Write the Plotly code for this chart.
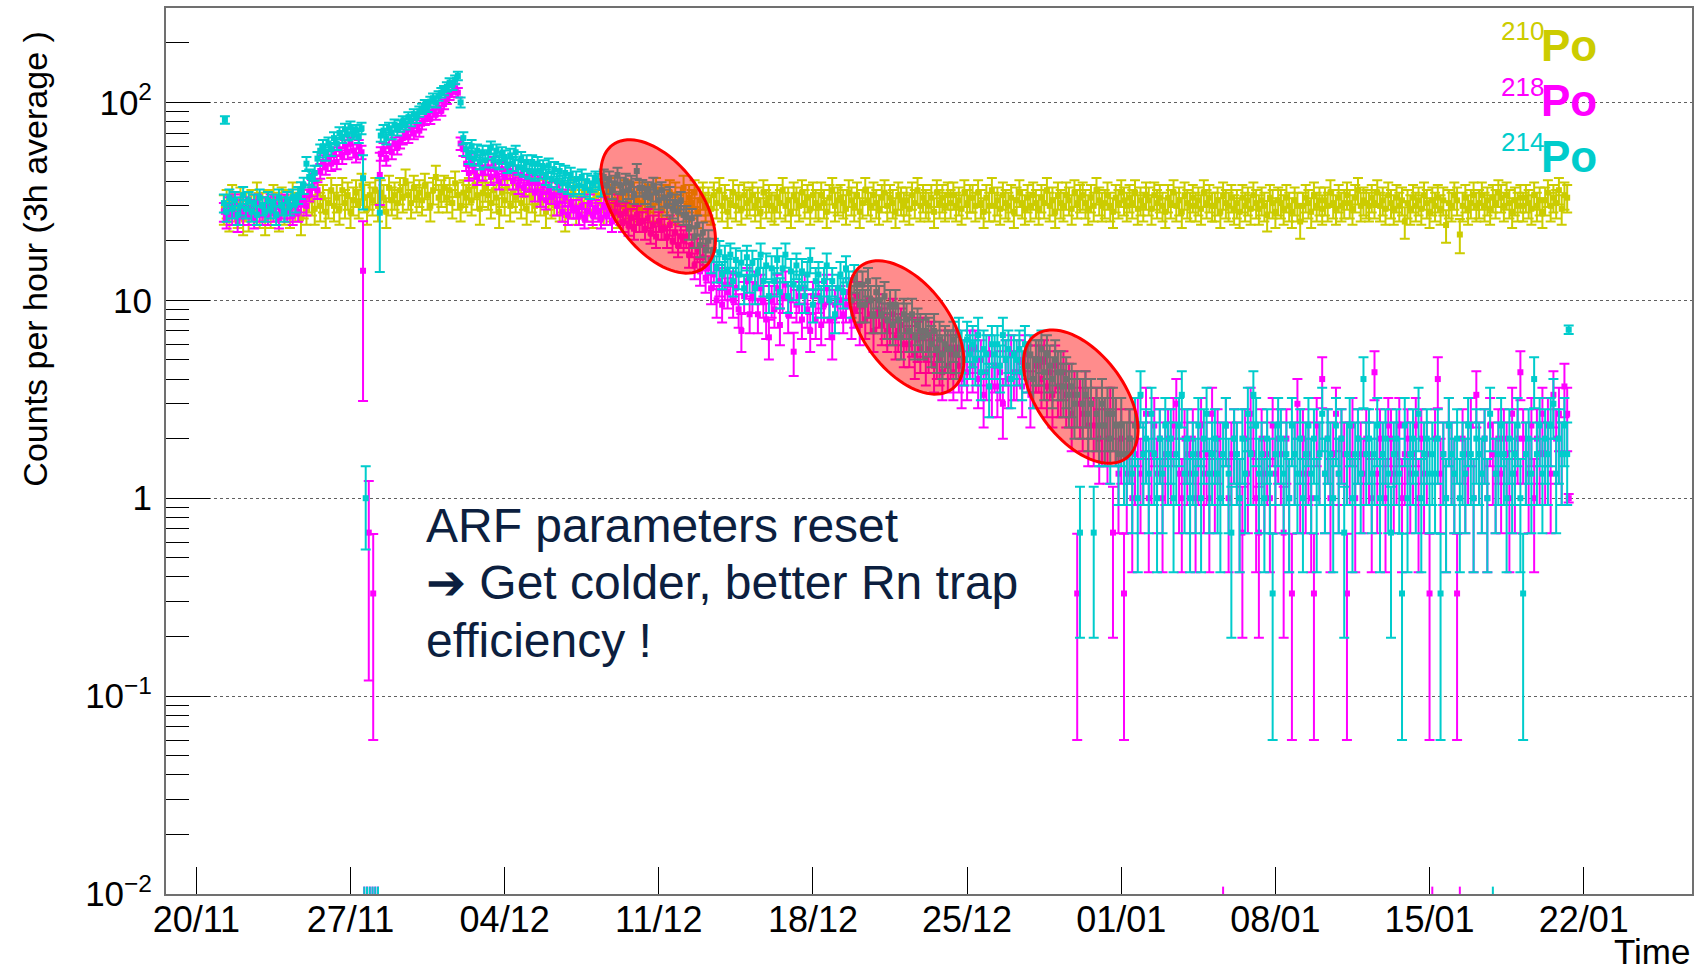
import numpy as np
import pandas as pd
import plotly.graph_objects as go

# ---------------------------------------------------------------------------
# Rates in counts per hour, averaged over 3 h bins (bin centres every 3 h,
# first bin 21/11 06:00, last bin 21/01 06:00).  One row = one day (8 bins).
# A value of 0 marks an empty bin.
# ---------------------------------------------------------------------------
BIN_START = "2018-11-21 06:00"
BIN_FREQ = "3h"

po210 = [
    29, 31, 27, 33, 30, 28, 32, 26,
    30, 27, 31, 29, 34, 28, 30, 26,
    31, 28, 33, 30, 27, 32, 29, 31,
    28, 34, 30, 32, 26, 31, 29, 33,
    32, 29, 35, 30, 33, 28, 31, 36,
    30, 33, 29, 36, 31, 34, 28, 32,
    35, 31, 38, 33, 29, 34, 32, 36,
    30, 35, 33, 28, 37, 32, 34, 31,
    36, 33, 40, 34, 31, 37, 33, 35,
    32, 38, 34, 30, 36, 42, 33, 35,
    37, 33, 36, 31, 39, 34, 30, 35,
    33, 36, 32, 38, 34, 29, 35, 37,
    34, 31, 36, 33, 28, 35, 32, 37,
    30, 35, 33, 37, 31, 34, 29, 36,
    33, 30, 36, 32, 35, 28, 34, 31,
    32, 35, 30, 33, 27, 34, 31, 36,
    29, 33, 31, 35, 30, 32, 28, 34,
    31, 34, 29, 33, 36, 30, 32, 28,
    33, 30, 35, 31, 29, 34, 32, 30,
    31, 34, 28, 33, 30, 36, 32, 29,
    33, 31, 35, 30, 34, 29, 32, 37,
    30, 33, 31, 35, 28, 32, 34, 30,
    32, 29, 34, 31, 36, 30, 33, 28,
    31, 35, 30, 33, 29, 34, 31, 32,
    34, 30, 32, 28, 35, 31, 33, 30,
    29, 33, 31, 36, 30, 32, 28, 34,
    32, 30, 35, 31, 33, 29, 34, 31,
    30, 34, 31, 28, 33, 36, 30, 32,
    33, 31, 29, 35, 32, 30, 34, 28,
    31, 36, 32, 30, 34, 31, 29, 33,
    35, 30, 33, 31, 28, 34, 32, 30,
    32, 29, 34, 31, 36, 30, 33, 31,
    30, 33, 28, 35, 31, 33, 30, 34,
    31, 34, 30, 32, 29, 35, 31, 33,
    33, 30, 35, 31, 28, 33, 30, 36,
    30, 32, 29, 34, 31, 30, 33, 28,
    32, 35, 31, 29, 33, 30, 34, 31,
    29, 33, 31, 36, 30, 32, 28, 34,
    31, 30, 34, 32, 29, 35, 31, 33,
    34, 31, 29, 33, 30, 36, 32, 30,
    31, 34, 30, 28, 33, 31, 35, 32,
    30, 33, 31, 35, 29, 32, 30, 34,
    32, 29, 34, 31, 33, 30, 28, 33,
    31, 35, 30, 32, 28, 34, 31, 30,
    33, 30, 32, 29, 35, 31, 33, 30,
    30, 32, 28, 34, 31, 30, 33, 29,
    31, 28, 33, 30, 32, 29, 34, 31,
    29, 32, 30, 27, 33, 31, 28, 32,
    31, 29, 33, 30, 28, 32, 30, 25,
    30, 33, 31, 28, 34, 30, 32, 29,
    32, 30, 35, 31, 29, 33, 30, 31,
    34, 31, 29, 33, 36, 30, 32, 31,
    30, 33, 31, 35, 30, 32, 29, 34,
    31, 29, 33, 30, 32, 25, 31, 29,
    33, 30, 32, 29, 34, 31, 28, 32,
    30, 33, 29, 32, 24, 31, 30, 34,
    32, 21.5, 30, 33, 29, 31, 34, 30,
    31, 34, 30, 32, 29, 33, 31, 35,
    33, 30, 34, 31, 28, 32, 30, 33,
    30, 33, 31, 29, 34, 30, 32, 28,
    32, 35, 30, 33, 31, 36, 29, 34,
    33,
]

po218 = [
    28, 26, 30, 27, 31, 25, 29, 27,
    30, 27, 29, 26, 31, 28, 27, 30,
    27, 31, 28, 30, 26, 29, 31, 28,
    29, 27, 30, 28, 31, 33, 30, 35,
    37, 40, 36, 45, 50, 47, 53, 49,
    55, 50, 58, 53, 60, 56, 62, 57,
    54, 60, 56, 0, 0, 0, 0, 0,
    0, 55, 58, 52, 60, 56, 62, 59,
    63, 66, 70, 67, 73, 70, 76, 72,
    78, 82, 86, 83, 90, 87, 94, 91,
    98, 104, 109, 113, 118, 112, 62, 58,
    49, 44, 51, 45, 42, 50, 44, 47,
    47, 42, 49, 43, 40, 46, 42, 45,
    45, 40, 44, 38, 43, 37, 42, 39,
    40, 35, 39, 33, 38, 32, 36, 34,
    34, 30, 35, 28, 33, 27, 31, 29,
    29, 27, 30, 26, 28, 31, 27, 29,
    28, 26, 30, 27, 29, 25, 28, 31,
    27, 25, 28, 24, 26, 23, 27, 25,
    25, 23, 26, 22, 24, 21, 25, 23,
    23, 21, 24, 20, 22, 19, 21, 20,
    21, 17, 19, 15, 18, 14, 16.5, 13,
    14.5, 11.5, 13.5, 10, 12.5, 9.5, 12, 11,
    12, 10, 11.5, 9, 7, 10.5, 12.5, 8.5,
    10.5, 12, 8.5, 11.5, 10, 8, 6.5, 10,
    9, 11.5, 7.5, 10.5, 12, 8.5, 10, 5.5,
    9.5, 10.5, 8, 11.5, 9, 7, 10.5, 8,
    10.5, 7.5, 9.5, 11.5, 8, 6.5, 9.5, 10,
    10, 8.5, 9.5, 11, 8, 9, 10.5, 7.5,
    9.5, 8, 10, 8.5, 7, 8.5, 9, 7.5,
    8, 7, 7.5, 8.5, 6.5, 7, 7.5, 6,
    7, 6, 6.67, 5.33, 6.33, 5.67, 6.67, 5,
    5.67, 6.33, 4.67, 5.33, 5, 4.33, 5.67, 4.67,
    5.33, 4.33, 5.67, 4.67, 4, 5, 4.33, 5.67,
    4.67, 5.67, 4, 5, 3.33, 4.33, 5.33, 3.67,
    4.67, 3.67, 4.33, 3, 5, 4, 5.33, 4.33,
    4.33, 5, 3.67, 5.33, 4.67, 3.33, 4, 4.67,
    4.67, 4, 5, 3.67, 4.33, 3.33, 4.67, 3.67,
    3.67, 4.33, 3.33, 3.67, 2.67, 3.33, 0.33, 3,
    2.67, 3.33, 2.33, 3, 2.33, 2.67, 2, 2.33,
    2.33, 2, 2.67, 0.67, 2.33, 1.33, 2, 0.33,
    1.33, 2, 1, 1.67, 2.33, 1.33, 1.67, 2.67,
    1, 1.67, 2.33, 1.33, 2, 1, 1.67, 2,
    1.67, 2.33, 3, 1.33, 1, 2, 1.67, 1.33,
    2, 1, 1.67, 2.33, 1.33, 1.67, 1, 2.67,
    1.33, 2, 1.67, 0, 2.33, 1, 1.67, 2,
    1.67, 1, 0.67, 2, 1.33, 2.67, 1.67, 1,
    0.67, 2, 1.33, 1.67, 1, 2.33, 1.33, 2,
    1.67, 0.67, 2, 1, 0.33, 1.67, 3, 1.33,
    2, 1.33, 1.67, 1, 0.33, 2.33, 1.67, 4,
    1.33, 2, 1, 1.67, 2.67, 1.33, 2, 1.67,
    0.33, 1.67, 2.33, 1, 2, 1.67, 1.33, 2,
    1.67, 1, 4.33, 1.33, 2, 1.67, 1, 2.33,
    2, 1.33, 1.67, 2.33, 1, 1.67, 2, 1.33,
    1.67, 2.33, 1, 2, 1.33, 1.67, 0.33, 0,
    2, 4, 1.33, 1.67, 1, 2.33, 1.67, 1.33,
    0.33, 0, 2, 1.33, 1.67, 2.33, 1, 3.33,
    1.67, 1.33, 2, 1, 2.33, 1.67, 1.33, 2,
    1.33, 2, 1.67, 1, 2.67, 1.33, 2, 4.33,
    2, 1.67, 1.33, 2.33, 1, 2, 1.67, 2.67,
    1.67, 2.33, 1.33, 3.33, 2, 2.67, 1.67, 3.67,
    2.67,
]

po214 = [
    31, 28, 33, 29, 32, 27, 30, 34,
    29, 32, 28, 31, 27, 33, 30, 28,
    32, 29, 31, 27, 33, 30, 28, 32,
    30, 33, 31, 34, 36, 38, 49, 42,
    41, 44, 52, 57, 60, 55, 62, 58,
    66, 62, 70, 67, 73, 69, 75, 70,
    72, 67, 74, 0, 0, 0, 0, 0,
    0, 68, 72, 66, 74, 70, 77, 73,
    76, 80, 78, 84, 81, 87, 84, 90,
    93, 97, 95, 101, 105, 100, 108, 112,
    115, 120, 126, 122, 130, 136, 100, 66,
    58, 53, 60, 52, 57, 50, 56, 51,
    56, 59, 51, 57, 50, 55, 53, 48,
    54, 49, 56, 47, 52, 46, 50, 45,
    50, 44, 49, 45, 47, 42, 48, 41,
    46, 40, 45, 39, 44, 38, 43, 37,
    41, 38, 42, 37, 40, 36, 39, 41,
    40, 37, 42, 38, 41, 36, 39, 43,
    38, 35, 40, 36, 39, 34, 45, 37,
    37, 34, 36, 33, 38, 35, 32, 36,
    33, 30, 34, 29, 31, 28, 32, 27,
    27, 23, 26, 21, 24, 19, 22, 18,
    20, 16, 18, 14.5, 17.5, 13.5, 16.5, 14,
    17, 12.5, 16, 13.5, 15.5, 11.5, 16.5, 13,
    15.5, 11.5, 14, 17, 12.5, 15, 10.5, 14.5,
    12.5, 16, 11, 14.5, 17, 10.5, 14, 12,
    15, 11.5, 14, 10.5, 13.5, 16, 9.5, 12.5,
    13.5, 10, 12.5, 15, 10, 12.5, 8.5, 11.5,
    13.5, 11, 14.5, 12, 10, 13, 12, 9.5,
    12, 9.5, 12.5, 10, 8.5, 11, 10, 8.5,
    10.5, 8, 9.5, 7.5, 9.5, 8, 6.5, 8.5,
    8, 7, 8.5, 6.5, 7.5, 7, 6.5, 7,
    6.67, 6, 7, 5.67, 6.33, 5.33, 6, 5.67,
    5.67, 6.33, 5.33, 6.67, 5.67, 5, 6.33, 5.33,
    6, 5, 6.67, 4.33, 5.67, 5.33, 3.67, 6,
    5.33, 6, 4.67, 6.67, 5, 5.67, 4, 5.33,
    5, 5.67, 4.33, 6, 4.67, 5.33, 4, 5,
    5, 5.67, 4.33, 5.33, 4.67, 4, 5, 4.33,
    4.33, 3.67, 4, 3.33, 3.67, 3, 3.33, 0.67,
    3, 3.33, 2.67, 3, 0.67, 2.67, 2.33, 3,
    2.33, 2.67, 2, 2.67, 2.33, 1.67, 2.33, 1.67,
    1.67, 2, 1.33, 2.33, 1, 3.33, 1.67, 2,
    1.33, 2.67, 1.67, 1, 2, 1.33, 2.33, 1.67,
    2, 1, 1.67, 2.33, 3.33, 1.33, 2, 1,
    1.67, 1.33, 2.33, 1, 2, 2.67, 1.33, 1.67,
    2, 1.33, 1, 1.67, 2.33, 1.33, 0.67, 2,
    1.67, 1, 2, 1.33, 2.67, 1.67, 3.33, 2.33,
    1.33, 1.67, 1, 2, 1.33, 0.33, 1.67, 2.33,
    2, 1.33, 1.67, 1, 2.33, 1.67, 1.33, 2,
    1, 1.67, 2.33, 1.33, 2, 1, 1.67, 2.67,
    1.33, 2, 1.67, 1, 2.33, 1.33, 2, 0.67,
    1.67, 2.33, 1, 1.67, 2, 1.33, 4, 1.67,
    2, 1.33, 1.67, 2.33, 1, 1.67, 2, 1.33,
    0.67, 1.67, 2, 1.33, 0.33, 2.33, 1, 1.67,
    2, 1.33, 2.67, 1, 1.67, 2, 1.33, 1.67,
    1.33, 2, 0.33, 1.67, 1, 2.33, 1.67, 1.33,
    2, 1, 1.67, 1.33, 2.33, 1.67, 1, 2,
    1.67, 1.33, 2, 1, 2.67, 0, 1.33, 1.67,
    2.33, 1.67, 1, 2, 1.33, 1.67, 2.33, 1,
    0.33, 1.67, 2, 1.33, 4, 1.67, 2.33, 1.33,
    2, 1.67, 2.33, 3, 1.33, 2, 1.67, 2.33,
    1.67,
]

# Short (partial) acquisitions with their own uncertainties
po218_partial_t = ["2018-11-27 13:40", "2018-11-27 19:55", "2018-11-28 00:45",
                   "2018-11-28 07:55", "2019-01-21 07:40"]
po218_partial_v = [14.1, 0.67, 0.33, 43.0, 1.0]
po218_partial_e = [11.0, 0.55, 0.33, 12.7, 0.05]

po214_partial_t = ["2018-11-21 07:08", "2018-11-27 13:40", "2018-11-27 16:35",
                   "2018-11-28 07:55", "2019-01-21 07:40"]
po214_partial_v = [81.6, 41.4, 1.0, 27.7, 7.1]
po214_partial_e = [3.5, 12.6, 0.45, 13.8, 0.35]

# Counts collected per unit rate in one bin (sets the Poisson uncertainty)
COUNTS_PER_RATE = {"210": 1.2, "218": 3.0, "214": 3.0}
ERR_FLOOR = 0.06          # lower end of bars that reach zero

COLORS = {"210": "#cccc00", "218": "#ff00ff", "214": "#00cccc"}

WEEK_TICKS = ["2018-11-20", "2018-11-27", "2018-12-04", "2018-12-11", "2018-12-18",
              "2018-12-25", "2019-01-01", "2019-01-08", "2019-01-15", "2019-01-22"]
WEEK_LABELS = ["20/11", "27/11", "04/12", "11/12", "18/12",
               "25/12", "01/01", "08/01", "15/01", "22/01"]

Y_TICKS = [0.01, 0.1, 1, 10, 100]
Y_LABELS = ["10<sup>\u22122</sup>", "10<sup>\u22121</sup>", "1", "10", "10<sup>2</sup>"]
Y_MINOR = [m * 10.0 ** e for e in range(-2, 3) for m in range(2, 10) if m * 10.0 ** e < 300]

# Highlighted periods: centre (time, rate), semi-axes in px, tilt in degrees
HIGHLIGHTS = [
    ("2018-12-10 23:17", 29.8),
    ("2018-12-22 06:00", 7.29),
    ("2018-12-30 03:50", 3.26),
]
HL_A, HL_B, HL_TILT = 76.6, 43.3, 53.4

NOTE_LINES = ["ARF parameters reset",
              "\u2794 Get colder, better Rn trap",
              "efficiency !"]

# ---------------------------------------------------------------------------
W, H = 1698, 973
MARGIN = dict(l=166, r=4, t=8, b=79)
X_RANGE = ["2018-11-18 14:55", "2019-01-26 22:02"]
Y_RANGE = [-2.0, 2.477]
PW = W - MARGIN["l"] - MARGIN["r"]
PH = H - MARGIN["t"] - MARGIN["b"]
FONT = "Liberation Sans, Arial, Helvetica, sans-serif"


def px_x(px):
    return (px - MARGIN["l"]) / PW


def px_y(py):
    return 1 - (py - MARGIN["t"]) / PH


def bars(values, errors):
    v = np.asarray(values, float)
    e = np.asarray(errors, float)
    lo = v - np.maximum(v - e, ERR_FLOOR)
    return e, lo


def series(name, values, pt=None, pv=None, pe=None):
    t = pd.date_range(BIN_START, periods=len(values), freq=BIN_FREQ)
    v = np.asarray(values, float)
    good = v > 0
    tt = list(t[good])
    vv = list(v[good])
    ee = list(np.sqrt(v[good] / COUNTS_PER_RATE[name]))
    if pt:
        tt += list(pd.to_datetime(pt))
        vv += list(pv)
        ee += list(pe)
    hi, lo = bars(vv, ee)
    empty = list(t[~good])
    return tt, vv, hi, lo, empty


fig = go.Figure()
traces = [("210", po210, None, None, None),
          ("218", po218, po218_partial_t, po218_partial_v, po218_partial_e),
          ("214", po214, po214_partial_t, po214_partial_v, po214_partial_e)]

empties = {}
for name, vals, pt, pv, pe in traces:
    tt, vv, hi, lo, empty = series(name, vals, pt, pv, pe)
    empties[name] = empty
    c = COLORS[name]
    fig.add_trace(go.Scatter(
        x=tt, y=vv, mode="markers", name=name + "Po",
        marker=dict(symbol="square", size=6, color=c, line=dict(width=0)),
        error_y=dict(type="data", symmetric=False, array=hi, arrayminus=lo,
                     color=c, thickness=2, width=5),
        showlegend=False,
    ))

# empty bins are shown at the bottom edge of the frame
for name in ("218", "214"):
    if empties[name]:
        fig.add_trace(go.Scatter(
            x=empties[name], y=[10 ** (Y_RANGE[0] + 0.016)] * len(empties[name]),
            mode="markers",
            marker=dict(symbol="line-ns-open", size=6, color=COLORS[name],
                        line=dict(width=2, color=COLORS[name])),
            showlegend=False, cliponaxis=False,
        ))


def to_paper(t, v):
    t0, t1 = pd.Timestamp(X_RANGE[0]), pd.Timestamp(X_RANGE[1])
    fx = (pd.Timestamp(t) - t0) / (t1 - t0)
    fy = (np.log10(v) - Y_RANGE[0]) / (Y_RANGE[1] - Y_RANGE[0])
    return fx, fy


def ellipse_path(t, v, a, b, tilt, n=90):
    fx, fy = to_paper(t, v)
    th = np.radians(tilt)
    s = np.linspace(0, 2 * np.pi, n, endpoint=False)
    dx = a * np.cos(th) * np.cos(s) - b * np.sin(th) * np.sin(s)
    dy = a * np.sin(th) * np.cos(s) + b * np.cos(th) * np.sin(s)
    xs = fx + dx / PW
    ys = fy - dy / PH
    return "M " + " L ".join(f"{x:.5f},{y:.5f}" for x, y in zip(xs, ys)) + " Z"


shapes = []
for t, v in HIGHLIGHTS:
    shapes.append(dict(type="path", xref="paper", yref="paper",
                       path=ellipse_path(t, v, HL_A, HL_B, HL_TILT),
                       fillcolor="rgba(255,0,0,0.45)",
                       line=dict(color="#ff0000", width=3), layer="above"))

annotations = []
# isotope labels: mass number raised and smaller, element symbol bold
for i, name in enumerate(("210", "218", "214")):
    yc = 45.5 + 55.3 * i
    annotations.append(dict(
        xref="paper", yref="paper", x=px_x(1601), y=px_y(yc),
        xanchor="right", yanchor="middle", showarrow=False,
        text="<b>Po</b>", font=dict(family=FONT, size=44, color=COLORS[name]),
    ))
    annotations.append(dict(
        xref="paper", yref="paper", x=px_x(1548), y=px_y(yc - 14),
        xanchor="right", yanchor="middle", showarrow=False,
        text=name, font=dict(family=FONT, size=26, color=COLORS[name]),
    ))
# axis titles
annotations.append(dict(
    xref="paper", yref="paper", x=px_x(35), y=px_y(30),
    xanchor="center", yanchor="top", textangle=-90, showarrow=False,
    text="Counts per hour (3h average )", font=dict(family=FONT, size=34, color="black"),
))
annotations.append(dict(
    xref="paper", yref="paper", x=px_x(1693), y=px_y(972),
    xanchor="right", yanchor="bottom", showarrow=False, borderpad=0,
    text="Time", font=dict(family=FONT, size=35, color="black"),
))
# comment on the plot, one annotation per line
for i, line in enumerate(NOTE_LINES):
    annotations.append(dict(
        xref="paper", yref="paper", x=px_x(424), y=px_y(525 + 57.5 * i),
        xanchor="left", yanchor="middle", align="left", showarrow=False,
        text=line, font=dict(family=FONT, size=48, color="#0c1f3f"),
    ))

fig.update_layout(
    width=W, height=H, margin=MARGIN,
    paper_bgcolor="white", plot_bgcolor="white",
    shapes=shapes, annotations=annotations,
    font=dict(family=FONT, color="black"),
    xaxis=dict(
        type="date", range=X_RANGE, tickmode="array",
        tickvals=WEEK_TICKS, ticktext=WEEK_LABELS,
        ticks="inside", ticklen=27, tickwidth=1, tickcolor="black",
        showline=True, linecolor="#707070", linewidth=2, mirror=True,
        showgrid=False, zeroline=False,
        tickfont=dict(family=FONT, size=36, color="black"),
        ticklabelstandoff=-7,
    ),
    yaxis=dict(
        type="log", range=Y_RANGE, tickmode="array",
        tickvals=Y_TICKS, ticktext=Y_LABELS,
        ticks="inside", ticklen=44, tickwidth=1, tickcolor="black",
        minor=dict(ticks="inside", ticklen=23, tickwidth=1, tickcolor="black",
                   tickmode="array", tickvals=Y_MINOR, showgrid=False),
        showline=True, linecolor="#707070", linewidth=2, mirror=True,
        showgrid=True, gridcolor="#606060", gridwidth=1, griddash="dot",
        zeroline=False,
        tickfont=dict(family=FONT, size=35, color="black"),
        ticklabelstandoff=5,
    ),
)

fig.write_html("out.html")
